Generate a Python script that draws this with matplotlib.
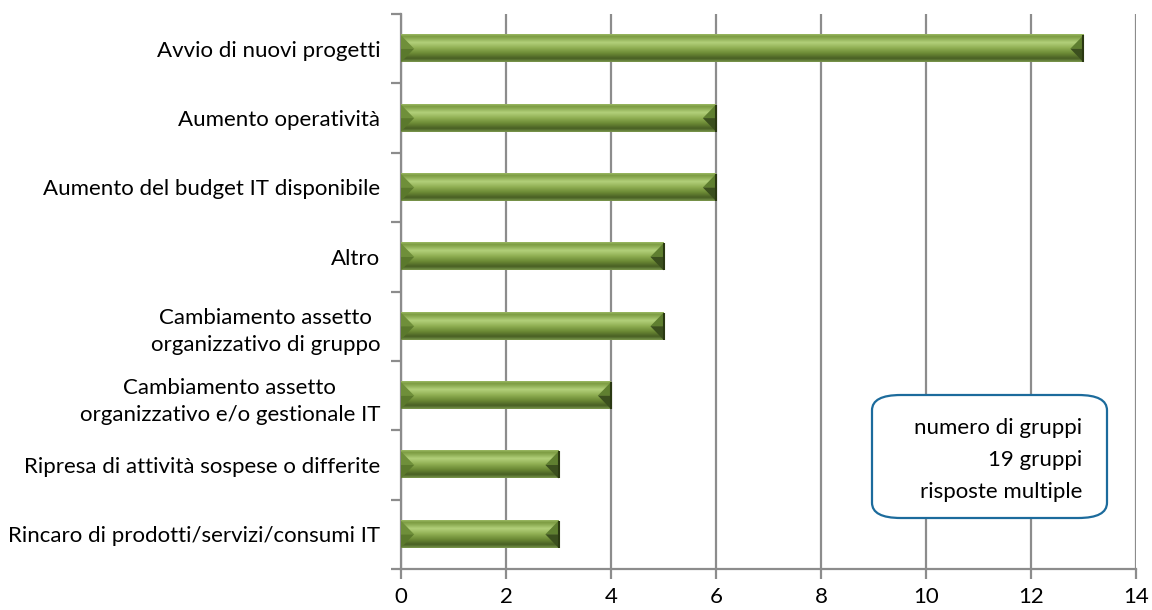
import numpy as np
import matplotlib
matplotlib.use("Agg")
import matplotlib.pyplot as plt
from matplotlib.colors import LinearSegmentedColormap
from matplotlib.patches import Polygon, FancyBboxPatch

plt.rcParams["font.family"] = ["Lato", "DejaVu Sans"]

categories = [
    "Avvio di nuovi progetti",
    "Aumento operatività",
    "Aumento del budget IT disponibile",
    "Altro",
    "Cambiamento assetto\norganizzativo di gruppo",
    "Cambiamento assetto\norganizzativo e/o gestionale IT",
    "Ripresa di attività sospese o differite",
    "Rincaro di prodotti/servizi/consumi IT",
]
values = [13, 6, 6, 5, 5, 4, 3, 3]
xticks = [0, 2, 4, 6, 8, 10, 12, 14]
note_lines = ["numero di gruppi", "19 gruppi", "risposte multiple"]

GRID = "#8c8c8c"
FS = 16
bar_h = 0.39

# vertical shading of the bevelled bar face (top -> bottom)
stops = [(0.0, "#9ab862"), (0.08, "#7c9b42"), (0.30, "#b2d07a"), (0.50, "#8fae52"),
         (0.70, "#6a8834"), (0.88, "#485f24"), (1.0, "#7a964c")]
shade = LinearSegmentedColormap.from_list("bevel", stops)
grad = np.linspace(0, 1, 64).reshape(-1, 1)

fig = plt.figure(figsize=(11.52, 6.10), dpi=100)
ax = fig.add_axes([0.3481, 0.0672, 0.6380, 0.9098])

y = np.arange(len(categories))
bars = ax.barh(y, values, height=bar_h, color="#8aaa4e", zorder=3)

for b in bars:
    x0, y0 = b.get_x(), b.get_y()
    w, h = b.get_width(), b.get_height()
    x1, y1 = x0 + w, y0 + h
    yc = y0 + h / 2
    ax.imshow(grad, cmap=shade, aspect="auto", extent=(x0, x1, y1, y0),
              origin="upper", zorder=4, interpolation="bilinear")
    bw = 0.25
    # left end bevel
    ax.add_patch(Polygon([(x0, y0), (x0 + bw, yc), (x0, yc)], closed=True,
                         facecolor="#6f8f3a", edgecolor="none", zorder=5))
    ax.add_patch(Polygon([(x0, yc), (x0 + bw, yc), (x0, y1)], closed=True,
                         facecolor="#5b792c", edgecolor="none", zorder=5))
    # right end bevel
    ax.add_patch(Polygon([(x1, y0), (x1 - bw, yc), (x1, yc)], closed=True,
                         facecolor="#5f7f30", edgecolor="none", zorder=5))
    ax.add_patch(Polygon([(x1, yc), (x1 - bw, yc), (x1, y1)], closed=True,
                         facecolor="#3b4f1e", edgecolor="none", zorder=5))
    ax.plot([x1, x1], [y0, y1], color="#2a3812", lw=1.5, zorder=6,
            solid_capstyle="butt")

ax.set_xlim(0, 14)
ax.set_ylim(len(categories) - 0.5, -0.5)
ax.set_xticks(xticks)
ax.set_xticklabels([str(t) for t in xticks])
ax.set_yticks(y)
ax.set_yticklabels(categories, ha="right", multialignment="center",
                   linespacing=1.45)
ax.set_yticks(np.arange(-0.5, len(categories)), minor=True)

ax.grid(axis="x", color=GRID, lw=1.6, zorder=1)
for s in ["top", "right"]:
    ax.spines[s].set_visible(False)
for s in ["left", "bottom"]:
    ax.spines[s].set_color(GRID)
    ax.spines[s].set_linewidth(1.6)
    ax.spines[s].set_zorder(2)

ax.tick_params(axis="x", direction="out", length=7, width=1.6, color=GRID,
               labelsize=FS, pad=6, labelcolor="black")
ax.tick_params(axis="y", which="major", length=0, pad=15, labelsize=FS,
               labelcolor="black")
ax.tick_params(axis="y", which="minor", direction="out", length=7, width=1.6,
               color=GRID)

# note box
box = FancyBboxPatch((872 / 1152, 1 - 518 / 610), 235 / 1152, 123 / 610,
                     boxstyle="round,pad=0,rounding_size=0.025",
                     transform=fig.transFigure, facecolor="white",
                     edgecolor="#1c6b9c", lw=1.6, zorder=10)
fig.patches.append(box)
for i, line in enumerate(note_lines):
    fig.text(1082 / 1152, 1 - (428 + 32 * i) / 610, line, ha="right",
             va="center", fontsize=FS, zorder=11)

fig.savefig("out.png", dpi=100)
